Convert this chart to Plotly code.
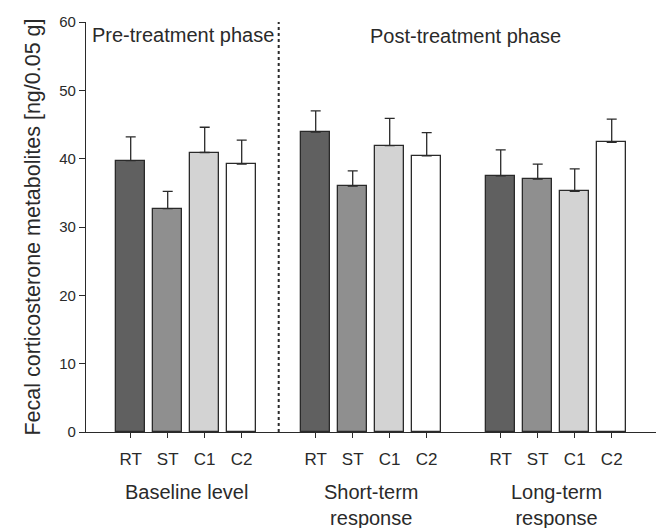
import plotly.graph_objects as go

groups = ["Baseline level", "Short-term<br>response", "Long-term<br>response"]
treatments = ["RT", "ST", "C1", "C2"]
colors = ["#606060", "#8f8f8f", "#d3d3d3", "#ffffff"]

means = [
    [39.7, 32.7, 40.9, 39.2],
    [43.9, 36.0, 41.9, 40.4],
    [37.5, 37.0, 35.2, 42.4],
]
sems = [
    [3.5, 2.5, 3.7, 3.5],
    [3.1, 2.2, 4.0, 3.4],
    [3.8, 2.2, 3.3, 3.4],
]
group_pos = [0, 5, 10]
divider_pos = 4

FONT = "Arial, Liberation Sans, sans-serif"
INK = "#2a2a2a"

fig = go.Figure()
tickvals, ticktext = [], []
for ti, t in enumerate(treatments):
    xs = [gp + ti for gp in group_pos]
    ys = [m[ti] for m in means]
    es = [s[ti] for s in sems]
    tickvals += xs
    ticktext += [t] * len(xs)
    fig.add_trace(go.Bar(
        x=xs, y=ys, width=0.77, name=t,
        marker=dict(color=colors[ti], line=dict(color=INK, width=1.3)),
        error_y=dict(type="data", symmetric=False, array=es,
                     arrayminus=[0] * len(es), color=INK, thickness=1.3, width=5),
        showlegend=False,
    ))

fig.add_shape(type="line", xref="x", yref="y", x0=divider_pos, x1=divider_pos,
              y0=0, y1=60, line=dict(color=INK, width=2, dash="dot"))

for gi, g in enumerate(groups):
    fig.add_annotation(x=group_pos[gi] + 1.5, y=-(479 - 432) / 410, xref="x", yref="paper",
                       text=g, showarrow=False, yanchor="top", xanchor="center",
                       font=dict(size=20, color=INK, family=FONT))

fig.add_annotation(x=(90 - 86) / 570, y=(432 - 35) / 410, xref="paper", yref="paper",
                   text="Pre-treatment phase", showarrow=False, xanchor="left", yanchor="middle",
                   font=dict(size=20, color=INK, family=FONT))
fig.add_annotation(x=(465 - 86) / 570, y=(432 - 36) / 410, xref="paper", yref="paper",
                   text="Post-treatment phase", showarrow=False, xanchor="center", yanchor="middle",
                   font=dict(size=20, color=INK, family=FONT))

fig.update_layout(
    width=661, height=528,
    margin=dict(l=86, r=5, t=22, b=96),
    plot_bgcolor="white", paper_bgcolor="white",
    font=dict(family=FONT, color=INK),
    bargap=0,
)
fig.update_xaxes(
    range=[-1.208, 14.197], tickmode="array", tickvals=tickvals, ticktext=ticktext,
    showline=True, linecolor=INK, linewidth=1.3, ticks="outside", ticklen=5,
    tickcolor=INK, tickwidth=1.3, showgrid=False, zeroline=False,
    tickfont=dict(size=17, color=INK, family=FONT), ticklabelstandoff=6,
)
fig.update_yaxes(
    range=[0, 60], tickvals=[0, 10, 20, 30, 40, 50, 60],
    showline=True, linecolor=INK, linewidth=1.3, ticks="outside", ticklen=6,
    tickcolor=INK, tickwidth=1.3, showgrid=False, zeroline=False,
    tickfont=dict(size=15, color=INK, family=FONT),
    title=dict(text="Fecal corticosterone metabolites [ng/0.05 g]",
               font=dict(size=21.5, color=INK, family=FONT), standoff=12),
)

fig.write_html("out.html")
